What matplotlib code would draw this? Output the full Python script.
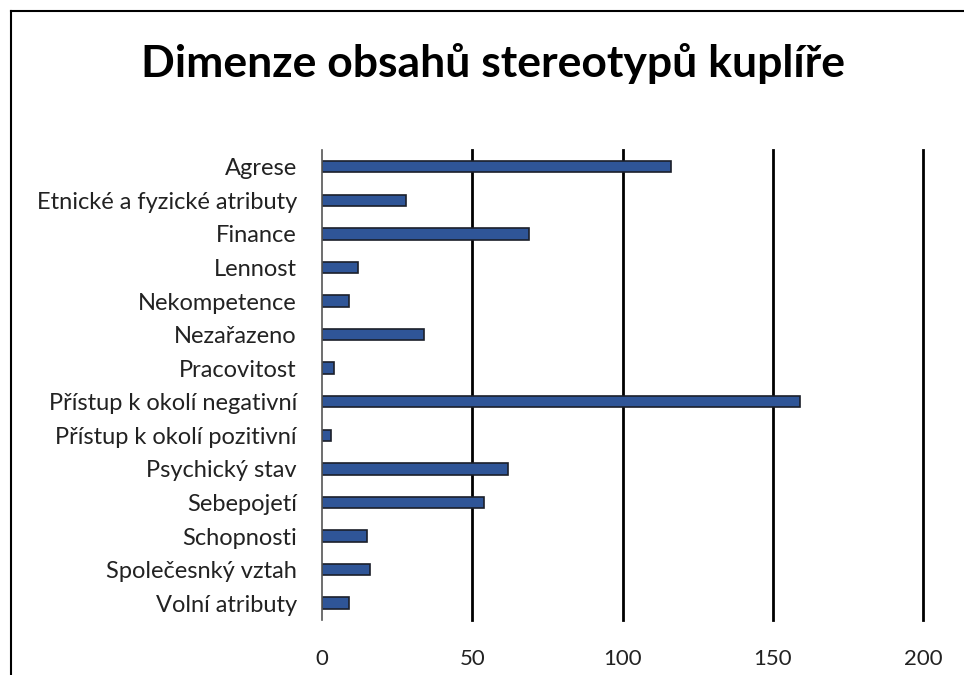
import numpy as np
import matplotlib
matplotlib.use("Agg")
import matplotlib.pyplot as plt
from matplotlib.lines import Line2D

kategorie = ["Agrese", "Etnické a fyzické atributy", "Finance", "Lennost",
             "Nekompetence", "Nezařazeno", "Pracovitost",
             "Přístup k okolí negativní", "Přístup k okolí pozitivní",
             "Psychický stav", "Sebepojetí", "Schopnosti",
             "Společesnký vztah", "Volní atributy"]
hodnoty = [116, 28, 69, 12, 9, 34, 4, 159, 3, 62, 54, 15, 16, 9]
xticks = [0, 50, 100, 150, 200]

plt.rcParams['font.family'] = ['Lato', 'DejaVu Sans']

fig = plt.figure(figsize=(9.64, 6.75), dpi=100)
ax = fig.add_axes([0.334, 0.0815, 0.6235, 0.6963])

y = np.arange(len(kategorie))
ax.barh(y, hodnoty, height=0.34, color='#2F5597', edgecolor='#1b1f2a', linewidth=1.2, zorder=3)

ax.set_xlim(0, 200)
ax.set_ylim(len(kategorie) - 0.5, -0.5)
ax.set_yticks(y)
ax.set_yticklabels(kategorie)
ax.set_xticks(xticks)
for xv in xticks[1:]:
    ax.axvline(xv, color='black', linewidth=2, zorder=1, clip_on=False)
ax.axvline(0, color='#555555', linewidth=1.2, zorder=4, clip_on=False)

for s in ax.spines.values():
    s.set_visible(False)
ax.tick_params(axis='both', length=0, colors='#222222')
ax.tick_params(axis='x', pad=21, labelsize=16)
ax.tick_params(axis='y', pad=18, labelsize=17)

fig.text(0.511, 0.906, 'Dimenze obsahů stereotypů kuplíře', ha='center', va='center',
         fontsize=32, fontweight='bold', color='black')

# ramecek kolem grafu (jen levy a horni okraj je videt)
fig.add_artist(Line2D([11/964, 11/964], [0, 1 - 11/675], transform=fig.transFigure,
                      color='black', linewidth=1.5))
fig.add_artist(Line2D([11/964, 1], [1 - 11/675, 1 - 11/675], transform=fig.transFigure,
                      color='black', linewidth=1.5))

fig.savefig('out.png', dpi=100)
